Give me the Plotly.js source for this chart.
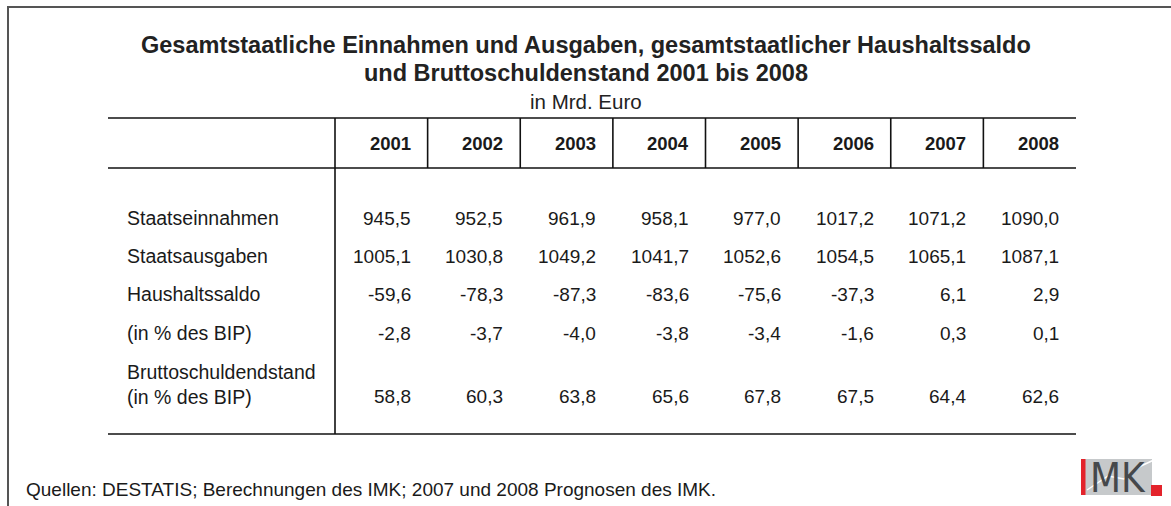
<!DOCTYPE html>
<html>
<head>
<meta charset="utf-8">
<script src="https://cdn.plot.ly/plotly-3.0.1.min.js"></script>
<style>html,body{margin:0;padding:0;background:#fff;}#chart{width:1171px;height:506px;}</style>
</head>
<body>
<div id="chart"></div>
<script>
// ---- data ----
var years = ['2001', '2002', '2003', '2004', '2005', '2006', '2007', '2008'];
var rowLabels = ['Staatseinnahmen', 'Staatsausgaben', 'Haushaltssaldo', '(in % des BIP)', 'Bruttoschuldendstand<br>(in % des BIP)'];
var einnahmen = [945.5, 952.5, 961.9, 958.1, 977.0, 1017.2, 1071.2, 1090.0];
var ausgaben = [1005.1, 1030.8, 1049.2, 1041.7, 1052.6, 1054.5, 1065.1, 1087.1];
var saldo = [-59.6, -78.3, -87.3, -83.6, -75.6, -37.3, 6.1, 2.9];
var saldoBIP = [-2.8, -3.7, -4.0, -3.8, -3.4, -1.6, 0.3, 0.1];
var schuldenBIP = [58.8, 60.3, 63.8, 65.6, 67.8, 67.5, 64.4, 62.6];
var titleLines = ['Gesamtstaatliche Einnahmen und Ausgaben, gesamtstaatlicher Haushaltssaldo', 'und Bruttoschuldenstand 2001 bis 2008'];
var subtitle = 'in Mrd. Euro';
var source = 'Quellen: DESTATIS; Berechnungen des IMK; 2007 und 2008 Prognosen des IMK.';

// ---- layout geometry ----
var W = 1171, H = 506;
var tLeft = 108, labRight = 335, tRight = 1076;
var colW = (tRight - labRight) / years.length;
var yTop = 118, yHead = 168, yBot = 434;
var rowY = [218, 256, 294, 333, 384];
var valY = [218, 256, 294, 333, 396];
var pad = 15;
var FONT = 'Liberation Sans, Arial, sans-serif';
var txt = '#1a1a1a';

function fmt(v) { return v.toFixed(1).replace('.', ','); }
var series = [einnahmen, ausgaben, saldo, saldoBIP, schuldenBIP];

var shapes = [];
var ann = [];
// outer frame
shapes.push({type: 'rect', xref: 'x', yref: 'y', x0: 8, x1: W + 20, y0: 7, y1: H + 20, line: {color: '#555', width: 2}});
// table rules
[yTop, yHead, yBot].forEach(function (y) {
  shapes.push({type: 'line', xref: 'x', yref: 'y', x0: tLeft, x1: tRight, y0: y, y1: y, line: {color: '#111', width: 1.6}});
});
shapes.push({type: 'line', xref: 'x', yref: 'y', x0: labRight, x1: labRight, y0: yTop, y1: yBot, line: {color: '#111', width: 1.6}});
for (var i = 1; i < years.length; i++) {
  var xx = labRight + i * colW;
  shapes.push({type: 'line', xref: 'x', yref: 'y', x0: xx, x1: xx, y0: yTop, y1: yHead, line: {color: '#111', width: 1.6}});
}
// header
years.forEach(function (yr, i) {
  ann.push({xref: 'x', yref: 'y', x: labRight + (i + 1) * colW - pad, y: (yTop + yHead) / 2, text: '<b>' + yr + '</b>',
    xanchor: 'right', yanchor: 'middle', showarrow: false, font: {family: FONT, size: 18.5, color: txt}});
});
// row labels
rowLabels.forEach(function (lab, r) {
  ann.push({xref: 'x', yref: 'y', x: tLeft + 17, y: rowY[r], text: lab, align: 'left',
    xanchor: 'left', yanchor: 'middle', showarrow: false, font: {family: FONT, size: 19.5, color: txt}});
});
// values
series.forEach(function (arr, r) {
  arr.forEach(function (v, i) {
    ann.push({xref: 'x', yref: 'y', x: labRight + (i + 1) * colW - pad, y: valY[r], text: fmt(v),
      xanchor: 'right', yanchor: 'middle', showarrow: false, font: {family: FONT, size: 19, color: txt}});
  });
});
// titles
ann.push({xref: 'x', yref: 'y', x: 585.5, y: 45, text: '<b>' + titleLines[0] + '</b>', xanchor: 'center', yanchor: 'middle', showarrow: false, font: {family: FONT, size: 23.5, color: '#222'}});
ann.push({xref: 'x', yref: 'y', x: 585.5, y: 73, text: '<b>' + titleLines[1] + '</b>', xanchor: 'center', yanchor: 'middle', showarrow: false, font: {family: FONT, size: 23.5, color: '#222'}});
ann.push({xref: 'x', yref: 'y', x: 585.5, y: 101, text: subtitle, xanchor: 'center', yanchor: 'middle', showarrow: false, font: {family: FONT, size: 20.5, color: '#222'}});
// source
ann.push({xref: 'x', yref: 'y', x: 24, y: 489, text: source, xanchor: 'left', yanchor: 'middle', showarrow: false, font: {family: FONT, size: 19, color: txt}});

// IMK logo
shapes.push({type: 'rect', xref: 'x', yref: 'y', x0: 1085, x1: 1152, y0: 459, y1: 495, fillcolor: '#c6c9cb', line: {width: 0}});
shapes.push({type: 'path', xref: 'x', yref: 'y', path: 'M1087,490 L1108,476 L1124,479 L1141,466 L1156,459', line: {color: '#ffffff', width: 1.5}});
shapes.push({type: 'rect', xref: 'x', yref: 'y', x0: 1081, x1: 1085.5, y0: 459, y1: 495, fillcolor: '#e3232b', line: {width: 0}});
shapes.push({type: 'rect', xref: 'x', yref: 'y', x0: 1151, x1: 1162, y0: 485, y1: 496, fillcolor: '#e3232b', line: {width: 0}});
ann.push({xref: 'x', yref: 'y', x: 1118, y: 478, text: 'MK', xanchor: 'center', yanchor: 'middle', showarrow: false,
  font: {family: 'Liberation Sans Narrow, DejaVu Sans Condensed, Liberation Sans, sans-serif', size: 40, color: '#45484b'}});

var layout = {
  width: W, height: H,
  margin: {l: 0, r: 0, t: 0, b: 0},
  paper_bgcolor: '#ffffff', plot_bgcolor: '#ffffff',
  xaxis: {range: [0, W], visible: false, fixedrange: true},
  yaxis: {range: [H, 0], visible: false, fixedrange: true},
  showlegend: false,
  shapes: shapes,
  annotations: ann
};
Plotly.newPlot('chart', [{x: [], y: [], type: 'scatter', mode: 'markers', hoverinfo: 'skip'}], layout, {staticPlot: true, displayModeBar: false});
</script>
</body>
</html>
